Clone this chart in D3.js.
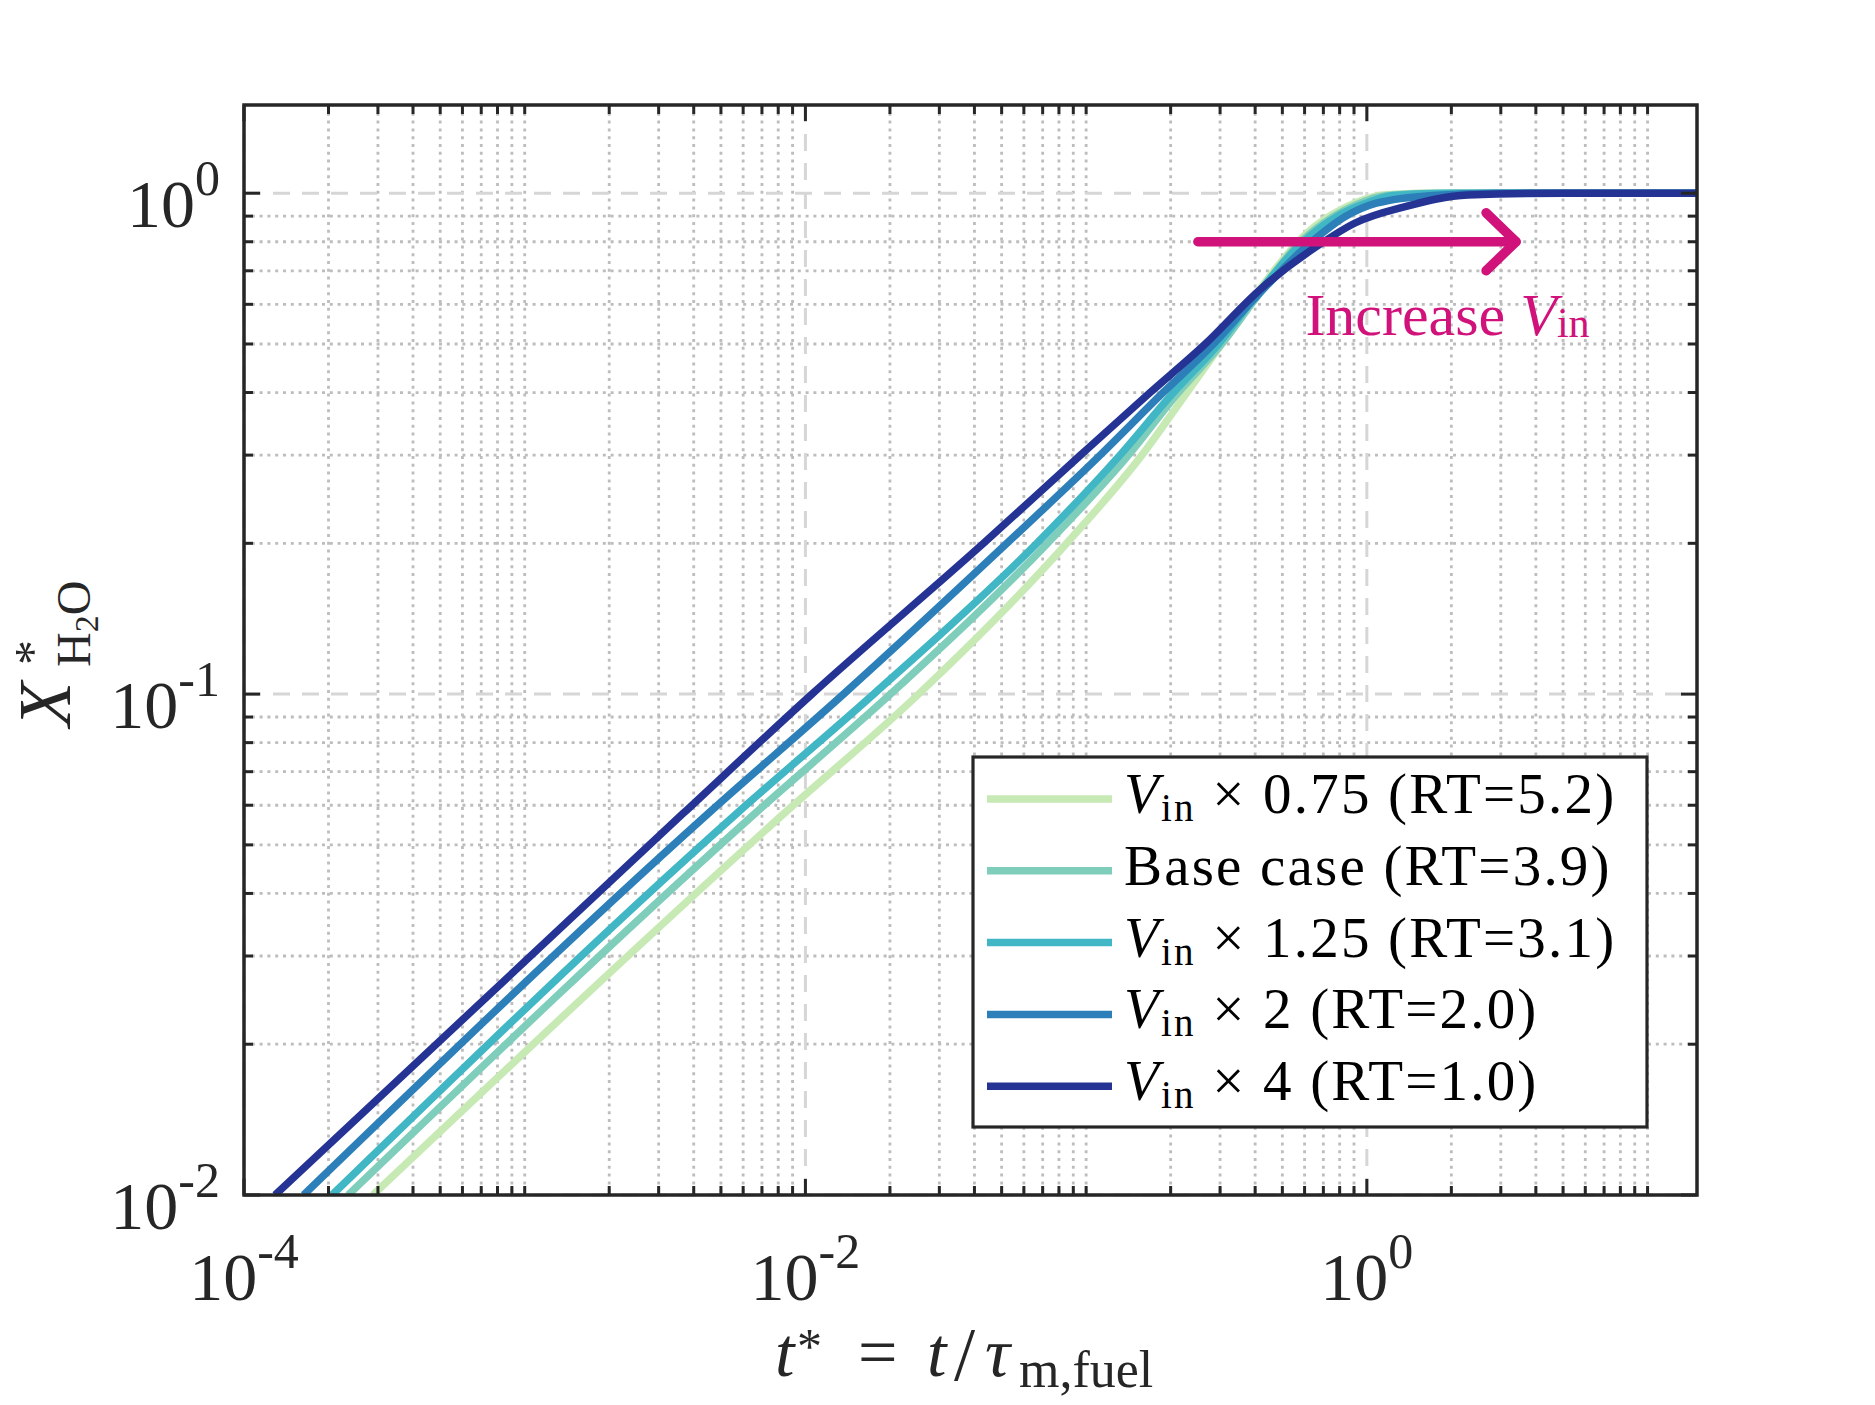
<!DOCTYPE html>
<html><head><meta charset="utf-8">
<script src="https://cdn.jsdelivr.net/npm/d3@7"></script>
<style>html,body{margin:0;padding:0;background:#fff;} svg{display:block;}</style>
</head><body>
<svg id="chart" width="1875" height="1405"></svg>
<script>
// ---------------- data ----------------
const tV075 = [2.88e-4, 0.0084, 0.0253, 0.0853, 0.158, 0.2286, 0.317, 0.4403, 0.611, 0.849, 1.146, 1.6, 15];
const xV075 = [0.01, 0.0578, 0.1, 0.2, 0.3, 0.4, 0.517, 0.671, 0.832, 0.94, 0.992, 1.0, 1.0];

const tBase = [2.35e-4, 0.00662, 0.0201, 0.0728, 0.1415, 0.213, 0.304, 0.39, 0.582, 0.76, 0.921, 1.18, 1.8, 15];
const xBase = [0.01, 0.0578, 0.1, 0.2, 0.3, 0.4, 0.5, 0.603, 0.8, 0.898, 0.95, 0.99, 1.0, 1.0];

const tV125 = [2.06e-4, 0.0057, 0.0175, 0.0667, 0.132, 0.2046, 0.296, 0.384, 0.594, 0.781, 0.97, 1.24, 2.0, 15];
const xV125 = [0.01, 0.0578, 0.1, 0.2, 0.3, 0.4, 0.5, 0.603, 0.8, 0.898, 0.95, 0.99, 1.0, 1.0];

const tV2 = [1.63e-4, 0.00451, 0.01367, 0.0522, 0.1122, 0.188, 0.284, 0.384, 0.637, 0.838, 1.08, 1.72, 3.0, 15];
const xV2 = [0.01, 0.0578, 0.1, 0.2, 0.3, 0.4, 0.5, 0.603, 0.8, 0.898, 0.955, 0.99, 1.0, 1.0];

const tV4 = [1.29e-4, 0.00367, 0.01055, 0.0431, 0.0955, 0.169, 0.2655, 0.415, 0.69, 0.904, 1.37, 2.29, 5, 15];
const xV4 = [0.01, 0.0578, 0.1, 0.2, 0.3, 0.4, 0.5, 0.641, 0.795, 0.871, 0.94, 0.992, 1.0, 1.0];

const seriesT = [tV075, tBase, tV125, tV2, tV4];
const seriesX = [xV075, xBase, xV125, xV2, xV4];
const seriesColors = ["#c7e9b4", "#7fcdbb", "#41b6c4", "#2c7fb8", "#253494"];
const legendHasV = [true, false, true, true, true];
const legendRest = ["\u00a0\u00d7 0.75 (RT=5.2)", "Base case (RT=3.9)", "\u00a0\u00d7 1.25 (RT=3.1)", "\u00a0\u00d7 2 (RT=2.0)", "\u00a0\u00d7 4 (RT=1.0)"];

const xDomain = [1e-4, 15];
const yDomain = [0.01, 1.5];
const xMajorTicks = [1e-4, 1e-2, 1e0];
const xMajorExp = ["-4", "-2", "0"];
const yMajorTicks = [1e-2, 1e-1, 1e0];
const yMajorExp = ["-2", "-1", "0"];

const annotArrow = [[0.25, 0.8], [3.4, 0.8]];
const annotTextPos = [0.604, 0.521];

// ---------------- layout ----------------
const L = 244, R = 1697, T = 105, B = 1195;
const AX = "#262626";
const MAG = "#d0127a";
const FONT = "'Liberation Serif', 'Times New Roman', serif";
const LW = 7.5;

const svg = d3.select("#chart");
svg.append("rect").attr("width", 1875).attr("height", 1405).attr("fill", "#fff");

const x = d3.scaleLog().domain(xDomain).range([L, R]);
const y = d3.scaleLog().domain(yDomain).range([B, T]);

const isMajor = (arr, v) => arr.some(t => Math.abs(t - v) / v < 1e-9);
const xMinor = [];
for (let k = -4; k <= 1; k++) for (let m = 1; m <= 9; m++) {
  const v = m * Math.pow(10, k);
  if (v > xDomain[1] * 1.0001 || isMajor(xMajorTicks, v)) continue;
  xMinor.push(v);
}
const yMinor = [];
for (let k = -2; k <= 0; k++) for (let m = 1; m <= 9; m++) {
  const v = m * Math.pow(10, k);
  if (v > yDomain[1] * 1.0001 || isMajor(yMajorTicks, v)) continue;
  yMinor.push(v);
}

// grid
const grid = svg.append("g");
const minorStyle = s => s.attr("stroke", "#bdbdbd").attr("stroke-width", 2.8).attr("stroke-dasharray", "3 4.8");
const majorStyle = s => s.attr("stroke", "#d6d6d6").attr("stroke-width", 3).attr("stroke-dasharray", "17 12");
grid.selectAll(".xmin").data(xMinor).join("line")
  .attr("x1", d => x(d)).attr("x2", d => x(d)).attr("y1", T).attr("y2", B).call(minorStyle);
grid.selectAll(".ymin").data(yMinor).join("line")
  .attr("y1", d => y(d)).attr("y2", d => y(d)).attr("x1", L).attr("x2", R).call(minorStyle);
grid.selectAll(".xmaj").data(xMajorTicks).join("line")
  .attr("x1", d => x(d)).attr("x2", d => x(d)).attr("y1", T).attr("y2", B).call(majorStyle);
grid.selectAll(".ymaj").data(yMajorTicks).join("line")
  .attr("y1", d => y(d)).attr("y2", d => y(d)).attr("x1", L).attr("x2", R).call(majorStyle);

// curves
svg.append("clipPath").attr("id", "clip").append("rect")
  .attr("x", L).attr("y", T).attr("width", R - L).attr("height", B - T);
const line = d3.line().x(d => x(d[0])).y(d => y(d[1])).curve(d3.curveMonotoneX);
const curves = svg.append("g").attr("clip-path", "url(#clip)");
seriesT.forEach((ts, i) => {
  const pts = ts.map((t, j) => [t, seriesX[i][j]]);
  curves.append("path").attr("d", line(pts)).attr("fill", "none")
    .attr("stroke", seriesColors[i]).attr("stroke-width", LW)
    .attr("stroke-linejoin", "round");
});

// box + ticks
const axes = svg.append("g").attr("stroke", AX);
const tickW = 3, majLen = 16, minLen = 9;
[[xMajorTicks, majLen], [xMinor, minLen]].forEach(([vals, len]) => {
  axes.selectAll(null).data(vals).join("line")
    .attr("x1", d => x(d)).attr("x2", d => x(d)).attr("y1", B).attr("y2", B - len).attr("stroke-width", tickW);
  axes.selectAll(null).data(vals).join("line")
    .attr("x1", d => x(d)).attr("x2", d => x(d)).attr("y1", T).attr("y2", T + len).attr("stroke-width", tickW);
});
[[yMajorTicks, majLen], [yMinor, minLen]].forEach(([vals, len]) => {
  axes.selectAll(null).data(vals).join("line")
    .attr("y1", d => y(d)).attr("y2", d => y(d)).attr("x1", L).attr("x2", L + len).attr("stroke-width", tickW);
  axes.selectAll(null).data(vals).join("line")
    .attr("y1", d => y(d)).attr("y2", d => y(d)).attr("x1", R).attr("x2", R - len).attr("stroke-width", tickW);
});
axes.append("rect").attr("x", L).attr("y", T).attr("width", R - L).attr("height", B - T)
  .attr("fill", "none").attr("stroke-width", 3.5);

// tick labels
const tl = svg.append("g").attr("font-family", FONT).attr("fill", AX);
xMajorTicks.forEach((v, i) => {
  const t = tl.append("text").attr("x", x(v)).attr("y", B + 105).attr("text-anchor", "middle").attr("font-size", 68);
  t.append("tspan").text("10");
  t.append("tspan").attr("dy", -32).attr("font-size", 50).text(xMajorExp[i]);
});
yMajorTicks.forEach((v, i) => {
  const t = tl.append("text").attr("x", 220).attr("y", y(v) + 34).attr("text-anchor", "end").attr("font-size", 68);
  t.append("tspan").text("10");
  t.append("tspan").attr("dy", -32).attr("font-size", 50).text(yMajorExp[i]);
});

// legend
const lg = svg.append("g");
const lgX = 973, lgY = 757, lgW = 674, lgH = 370, rowH = 71.8, row0 = 799;
lg.append("rect").attr("x", lgX).attr("y", lgY).attr("width", lgW).attr("height", lgH)
  .attr("fill", "#fff").attr("stroke", AX).attr("stroke-width", 3.2);
seriesColors.forEach((c, i) => {
  const yy = row0 + i * rowH;
  lg.append("line").attr("x1", 987).attr("x2", 1112).attr("y1", yy).attr("y2", yy)
    .attr("stroke", c).attr("stroke-width", LW);
  const t = lg.append("text").attr("x", 1124).attr("y", yy + 14).attr("font-family", FONT)
    .attr("font-size", 57).attr("fill", "#000").attr("letter-spacing", 2.2);
  if (legendHasV[i]) {
    t.append("tspan").attr("font-style", "italic").text("V");
    t.append("tspan").attr("dy", 8).attr("font-size", 39).text("in");
    t.append("tspan").attr("dy", -8).text(legendRest[i]);
  } else {
    t.append("tspan").text(legendRest[i]);
  }
});

// annotation arrow + text
const an = svg.append("g").attr("stroke", MAG).attr("stroke-width", 9.5).attr("stroke-linecap", "round")
  .attr("stroke-linejoin", "round").attr("fill", "none");
const ax0 = x(annotArrow[0][0]), ax1 = x(annotArrow[1][0]), ay = y(annotArrow[0][1]);
an.append("line").attr("x1", ax0).attr("x2", ax1).attr("y1", ay).attr("y2", ay);
an.append("polyline").attr("points", `${ax1 - 30},${ay - 29} ${ax1},${ay} ${ax1 - 30},${ay + 29}`);
const at = svg.append("text").attr("x", x(annotTextPos[0])).attr("y", y(annotTextPos[1]))
  .attr("font-family", FONT).attr("font-size", 60).attr("fill", MAG);
at.append("tspan").text("Increase ");
at.append("tspan").attr("font-style", "italic").text("V");
at.append("tspan").attr("dy", 2).attr("font-size", 42).text("in");

// x label
const xl = svg.append("text").attr("y", 1376).attr("font-family", FONT)
  .attr("font-size", 70).attr("fill", AX);
xl.append("tspan").attr("x", 775).attr("font-style", "italic").text("t");
xl.append("tspan").attr("x", 797).attr("dy", -13).attr("font-size", 50).text("*");
xl.append("tspan").attr("x", 858).attr("dy", 13).text("=");
xl.append("tspan").attr("x", 927).attr("font-style", "italic").text("t");
xl.append("tspan").attr("x", 954).attr("dy", 4).attr("font-size", 76).text("/");
xl.append("tspan").attr("x", 985).attr("dy", -4).attr("font-style", "italic").text("\u03c4");
xl.append("tspan").attr("x", 1019).attr("dy", 11).attr("font-size", 52).text("m,fuel");

// y label
const yl = svg.append("g").attr("transform", "translate(70,727) rotate(-90)")
  .attr("font-family", FONT).attr("fill", AX);
yl.append("text").attr("x", 0).attr("y", 0).attr("font-size", 74).attr("font-style", "italic").text("X");
yl.append("text").attr("x", 62).attr("y", -21).attr("font-size", 50).text("*");
const sub = yl.append("text").attr("x", 60).attr("y", 20).attr("font-size", 48);
sub.append("tspan").text("H");
sub.append("tspan").attr("dy", 8).attr("font-size", 34).text("2");
sub.append("tspan").attr("dy", -8).text("O");
</script>
</body></html>
